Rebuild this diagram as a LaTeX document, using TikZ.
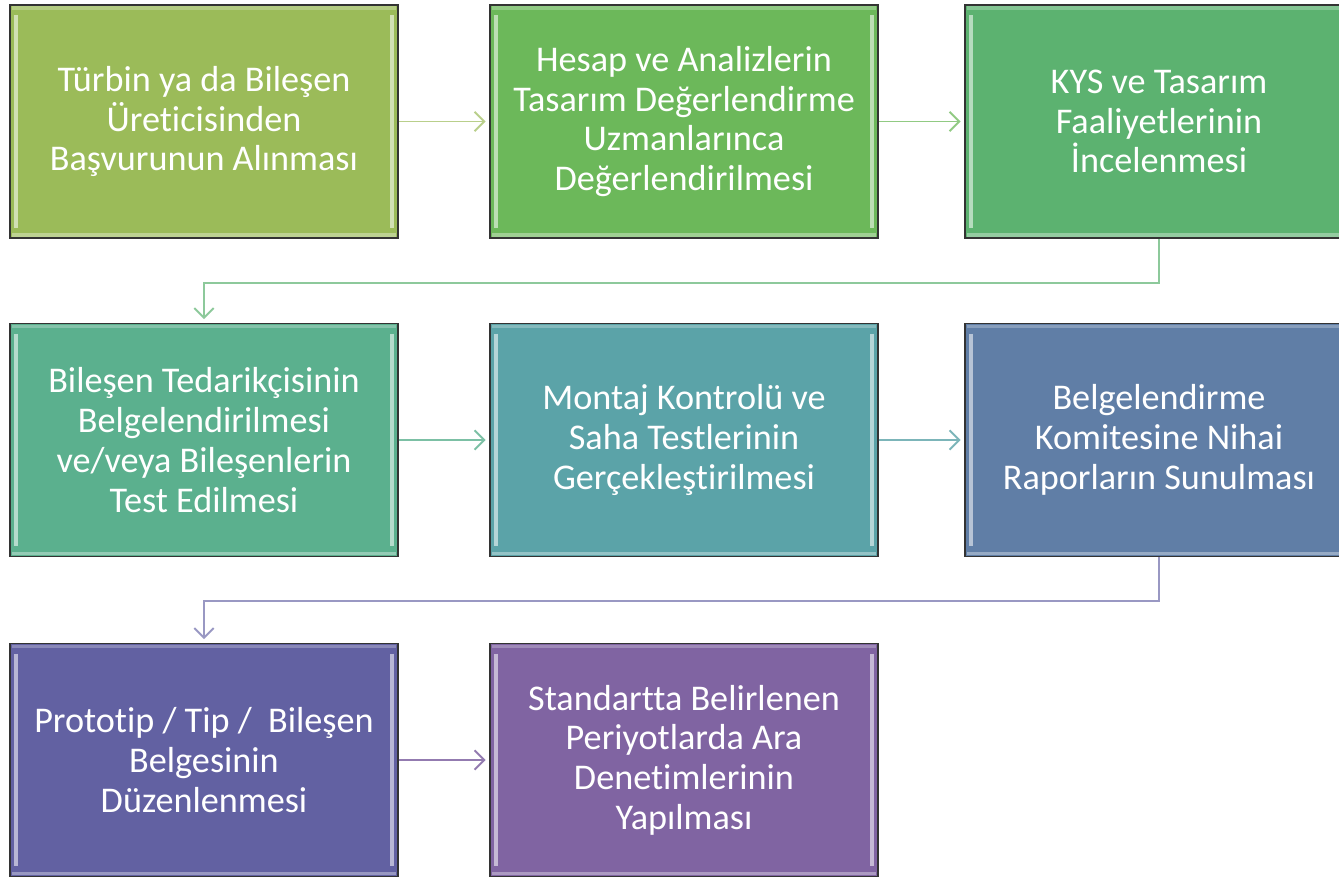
\documentclass[tikz,border=0pt]{standalone}
\usepackage{fontspec}
\setmainfont{Carlito}[Ligatures=NoCommon]
\usepackage{tikz}
\usetikzlibrary{positioning, arrows.meta, calc}
\usepackage{xcolor}

\definecolor{cOne}{HTML}{9BBB59}
\definecolor{cTwo}{HTML}{6CB85A}
\definecolor{cThree}{HTML}{5CB270}
\definecolor{cFour}{HTML}{5BB08E}
\definecolor{cFive}{HTML}{5BA3A8}
\definecolor{cSix}{HTML}{607EA6}
\definecolor{cSeven}{HTML}{6261A2}
\definecolor{cEight}{HTML}{8064A2}

\begin{document}
\begin{tikzpicture}[
    x=0.02cm, y=-0.02cm,
    stepbox/.style={rectangle, draw=black!80, line width=1pt,
        minimum width=7.76cm, minimum height=4.66cm,
        text=white, align=center,
        font=\fontsize{20.6}{22.6}\selectfont,
        path picture={
            % light bevel along the inner edges
            \draw[white, opacity=.55, line width=2.6pt]
                ([shift={(6,10)}]path picture bounding box.north west)
                -- ([shift={(6,-10)}]path picture bounding box.south west);
            \draw[white, opacity=.55, line width=2.6pt]
                ([shift={(-6,10)}]path picture bounding box.north east)
                -- ([shift={(-6,-10)}]path picture bounding box.south east);
            \draw[white, opacity=.35, line width=1.8pt]
                ([shift={(2,-3)}]path picture bounding box.south west)
                -- ([shift={(-2,-3)}]path picture bounding box.south east);
            \draw[white, opacity=.25, line width=1.8pt]
                ([shift={(2,3)}]path picture bounding box.north west)
                -- ([shift={(-2,3)}]path picture bounding box.north east);
        }},
    flow/.style={line width=1.1pt, -{Straight Barb[length=5.5pt, width=11pt]},
        shorten >=2pt}
]
    \useasboundingbox (0,0) rectangle (1339,877);

    % row 1
    \node[stepbox, fill=cOne] (s1) at (204,121.5) {Türbin ya da Bileşen\\Üreticisinden\\Başvurunun Alınması};
    \node[stepbox, fill=cTwo] (s2) at (684,121.5) {Hesap ve Analizlerin\\Tasarım Değerlendirme\\Uzmanlarınca\\Değerlendirilmesi};
    \node[stepbox, fill=cThree] (s3) at (1159,121.5) {KYS ve Tasarım\\Faaliyetlerinin\\İncelenmesi};

    % row 2
    \node[stepbox, fill=cFour] (s4) at (204,440) {Bileşen Tedarikçisinin\\Belgelendirilmesi\\ve/veya Bileşenlerin\\Test Edilmesi};
    \node[stepbox, fill=cFive] (s5) at (684,440) {Montaj Kontrolü ve\\Saha Testlerinin\\Gerçekleştirilmesi};
    \node[stepbox, fill=cSix] (s6) at (1159,440) {Belgelendirme\\Komitesine Nihai\\Raporların Sunulması};

    % row 3
    \node[stepbox, fill=cSeven] (s7) at (204,760) {Prototip / Tip / ~Bileşen\\Belgesinin\\Düzenlenmesi};
    \node[stepbox, fill=cEight] (s8) at (684,760) {Standartta Belirlenen\\Periyotlarda Ara\\Denetimlerinin\\Yapılması};

    \draw[flow, color=cOne!70] (s1) -- (s2);
    \draw[flow, color=cTwo!75] (s2) -- (s3);
    \draw[flow, color=cThree!70] (s3.south) -- ++(0,44) -| (s4.north);
    \draw[flow, color=cFour!80] (s4) -- (s5);
    \draw[flow, color=cFive!80] (s5) -- (s6);
    \draw[flow, color=cSeven!65] (s6.south) -- ++(0,44) -| (s7.north);
    \draw[flow, color=cEight!85] (s7) -- (s8);
\end{tikzpicture}
\end{document}
